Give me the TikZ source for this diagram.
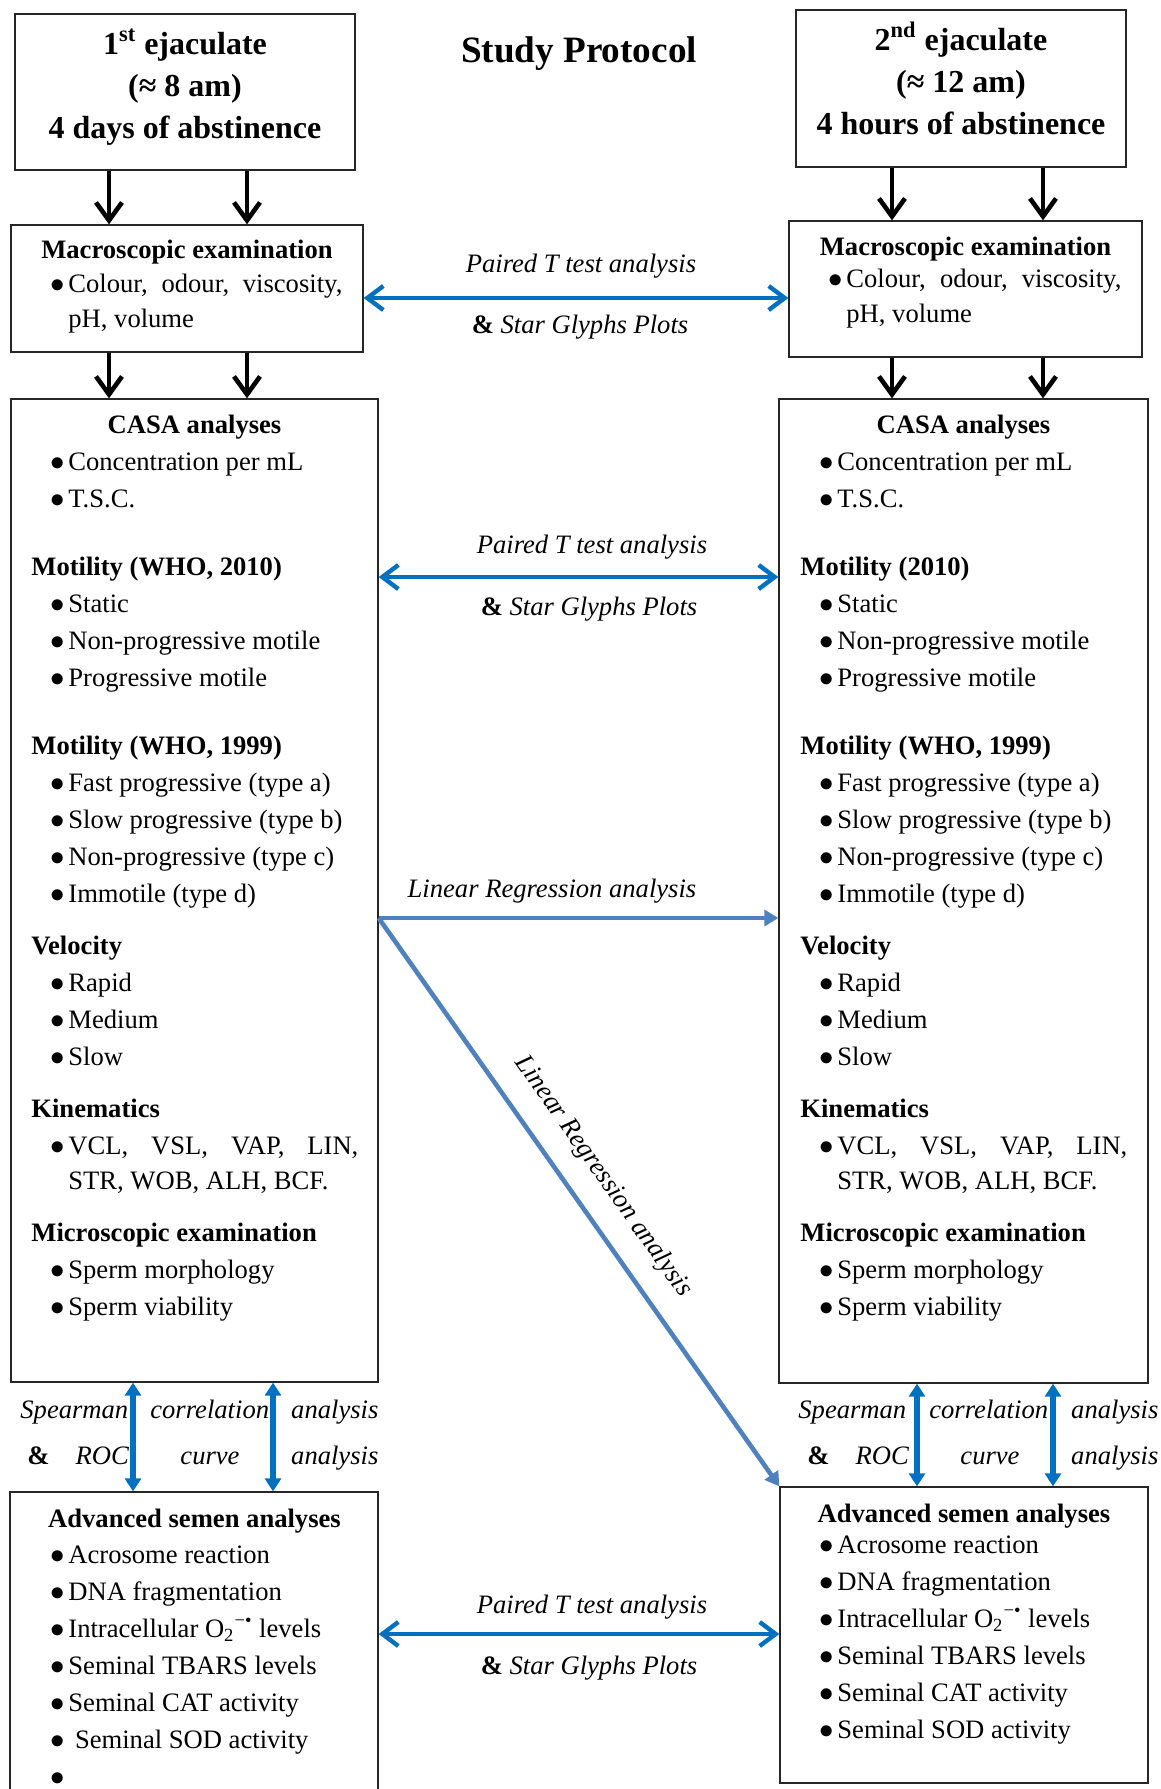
\documentclass[tikz,border=0pt]{standalone}
\usepackage{fontspec}
\setmainfont{Liberation Serif}
\usepackage{xcolor}
\usepackage{tikz}
\usetikzlibrary{arrows.meta, positioning, fit}
\definecolor{pairblue}{RGB}{0,112,192}
\definecolor{regblue}{RGB}{79,129,189}
\newcommand{\bodysize}{\fontsize{13.3}{18.5}\selectfont}
\newcommand{\bitm}{\makebox[9pt][l]{$\bullet$}}
\newcommand{\itm}{\hspace*{9.5pt}\bitm}
\newcommand{\casalist}[1]{\parbox[t]{170pt}{%
\itm Concentration per mL\\
\itm T.S.C.\\[15.5pt]
\textbf{#1}\\
\itm Static\\
\itm Non-progressive motile\\
\itm Progressive motile\\[15.5pt]
\textbf{Motility (WHO, 1999)}\\
\itm Fast progressive (type a)\\
\itm Slow progressive (type b)\\
\itm Non-progressive (type c)\\
\itm Immotile (type d)\\[7.5pt]
\textbf{Velocity}\\
\itm Rapid\\
\itm Medium\\
\itm Slow\\[7.5pt]
\textbf{Kinematics}\\
\itm\makebox[145pt][s]{VCL, VSL, VAP, LIN,}\\[-1pt]
\hspace*{18.5pt}STR, WOB, ALH, BCF.\\[7.5pt]
\textbf{Microscopic examination}\\
\itm Sperm morphology\\
\itm Sperm viability}}

\begin{document}
\begin{tikzpicture}[x=0.5pt, y=-0.5pt,
  frame/.style={draw=black!85, line width=0.65pt, inner sep=0pt},
  head/.style={inner sep=0pt, anchor=base, font=\bodysize\bfseries},
  list/.style={inner sep=0pt, anchor=base west, font=\bodysize},
  ejtext/.style={inner sep=0pt, anchor=base, font=\fontsize{16}{21}\selectfont\bfseries},
  lbl/.style={inner sep=0pt, anchor=base, font=\bodysize},
  down/.style={line width=2.3pt, -{Straight Barb[length=9pt, width=13pt]}},
  paired/.style={draw=pairblue, line width=2.2pt, {Straight Barb[length=8pt, width=12pt]}-{Straight Barb[length=8pt, width=12pt]}},
  spear/.style={draw=pairblue, line width=2.6pt, {Triangle[length=6.5pt, width=8pt]}-{Triangle[length=6.5pt, width=8pt]}},
  regress/.style={draw=regblue, line width=2.3pt, -{Triangle[length=7pt, width=8pt]}}
]
\useasboundingbox (0,0) rectangle (1161,1789);
\clip (0,0) rectangle (1161,1789);

% title and the two samples
\node[font=\fontsize{18.6}{22}\selectfont\bfseries, anchor=base, inner sep=0pt] (title) at (579,62) {Study Protocol};
\node[frame, fit={(15,14) (355,170)}] (ej1) {};
\node[ejtext] (ej1txt) at (185,54) {\parbox[t]{170pt}{\centering 1\textsuperscript{st} ejaculate\\(≈ 8 am)\\4 days of abstinence}};
\node[frame, fit={(796,10) (1126,167)}] (ej2) {};
\node[ejtext] (ej2txt) at (961,50) {\parbox[t]{165pt}{\centering 2\textsuperscript{nd} ejaculate\\(≈ 12 am)\\4 hours of abstinence}};

% macroscopic examination
\node[frame, fit={(11,225) (363,352)}] (macL) {};
\node[head] (macLhead) at (187,258) {Macroscopic examination};
\node[list] (macLlist) at (50,292) {\parbox[t]{160pt}{\bitm\makebox[137pt][s]{Colour, odour, viscosity,}\\[-1pt]\hspace*{9pt}pH, volume}};
\node[frame, fit={(789,221) (1142,357)}] (macR) {};
\node[head] (macRhead) at (965.5,255) {Macroscopic examination};
\node[list] (macRlist) at (828,287) {\parbox[t]{160pt}{\bitm\makebox[137.5pt][s]{Colour, odour, viscosity,}\\[-1pt]\hspace*{9pt}pH, volume}};

% CASA
\node[frame, fit={(11,399) (378,1382)}] (casaL) {};
\node[head] (casaLhead) at (194.5,433) {CASA analyses};
\node[list] (casaLlist) at (31,470) {\casalist{Motility (WHO, 2010)}};
\node[frame, fit={(779,399) (1148,1383)}] (casaR) {};
\node[head] (casaRhead) at (963.5,433) {CASA analyses};
\node[list] (casaRlist) at (800,470) {\casalist{Motility (2010)}};

% advanced analyses
\node[frame, fit={(10,1492) (378,1810)}] (advL) {};
\node[head] (advLhead) at (194.5,1527) {Advanced semen analyses};
\node[list] (advLlist) at (31,1563) {\parbox[t]{170pt}{%
\itm Acrosome reaction\\
\itm DNA fragmentation\\
\itm Intracellular O\textsubscript{2}\textsuperscript{−•} levels\\
\itm Seminal TBARS levels\\
\itm Seminal CAT activity\\
\itm\ Seminal SOD activity\\
\itm}};
\node[frame, fit={(780,1487) (1148,1783)}] (advR) {};
\node[head] (advRhead) at (964,1522) {Advanced semen analyses};
\node[list] (advRlist) at (800,1553) {\parbox[t]{170pt}{%
\itm Acrosome reaction\\
\itm DNA fragmentation\\
\itm Intracellular O\textsubscript{2}\textsuperscript{−•} levels\\
\itm Seminal TBARS levels\\
\itm Seminal CAT activity\\
\itm Seminal SOD activity}};

% arrow columns
\coordinate (cl1) at (109,0); \coordinate (cl2) at (247,0);
\coordinate (cr1) at (892,0); \coordinate (cr2) at (1043,0);
\coordinate (sl1) at (133,0); \coordinate (sl2) at (273,0);
\coordinate (sr1) at (917,0); \coordinate (sr2) at (1053,0);

\foreach \c in {cl1,cl2} {
  \draw[down] (ej1.south -| \c) -- (macL.north -| \c);
  \draw[down] (macL.south -| \c) -- (casaL.north -| \c);
}
\foreach \c in {cr1,cr2} {
  \draw[down] (ej2.south -| \c) -- (macR.north -| \c);
  \draw[down] (macR.south -| \c) -- (casaR.north -| \c);
}

% paired comparisons
\draw[paired] (macL.east |- 0,298) -- (macR.west |- 0,298);
\node[lbl] (pt1a) at (581,272) {\itshape Paired T test analysis};
\node[lbl] (pt1b) at (580,333) {\textbf{\&} \itshape Star Glyphs Plots};
\draw[paired] (casaL.east |- 0,577) -- (casaR.west |- 0,577);
\node[lbl] (pt2a) at (592,553) {\itshape Paired T test analysis};
\node[lbl] (pt2b) at (589,615) {\textbf{\&} \itshape Star Glyphs Plots};
\draw[paired] (advL.east |- 0,1634) -- (advR.west |- 0,1634);
\node[lbl] (pt3a) at (592,1613) {\itshape Paired T test analysis};
\node[lbl] (pt3b) at (589,1674) {\textbf{\&} \itshape Star Glyphs Plots};

% regressions
\draw[regress] (casaL.east |- 0,918) -- (casaR.west |- 0,918);
\node[lbl] (lr1) at (552,897) {\itshape Linear Regression analysis};
\draw[regress] (casaL.east |- 0,918) -- (advR.north west)
  node[sloped, pos=0.49, above=10pt, inner sep=0pt, font=\bodysize\itshape] (lr2) {Linear Regression analysis};

% Spearman / ROC
\foreach \c in {sl1,sl2} \draw[spear] (casaL.south -| \c) -- (advL.north -| \c);
\foreach \c in {sr1,sr2} \draw[spear] (casaR.south -| \c) -- (advR.north -| \c);
\node[list] (spearL) at (20,1418) {\parbox[t]{180pt}{\makebox[179pt][s]{\itshape Spearman correlation analysis}\\[4.5pt]\hspace*{3.5pt}\makebox[175.5pt][l]{\textbf{\&}\hspace{13pt}\itshape ROC\hfill curve\hfill analysis}}};
\node[list] (spearR) at (798,1418) {\parbox[t]{181pt}{\makebox[180pt][s]{\itshape Spearman correlation analysis}\\[4.5pt]\hspace*{4.5pt}\makebox[175.5pt][l]{\textbf{\&}\hspace{13pt}\itshape ROC\hfill curve\hfill analysis}}};
\end{tikzpicture}
\end{document}
